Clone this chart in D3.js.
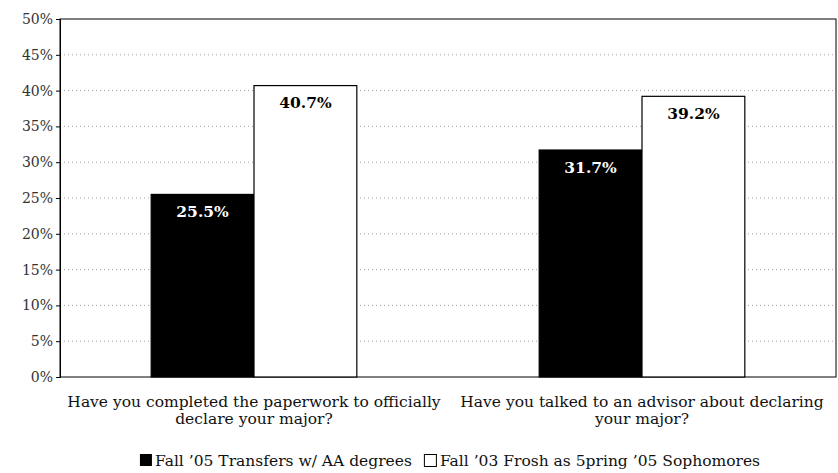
<!DOCTYPE html>
<html><head><meta charset="utf-8">
<script src="https://cdn.jsdelivr.net/npm/d3@7"></script>
<style>body{margin:0;background:#fff}svg{display:block}text{font-family:"DejaVu Serif","Liberation Serif",serif}</style>
</head><body>
<svg id="c" width="838" height="473"></svg>
<script>
const categories = [
  ["Have you completed the paperwork to officially", "declare your major?"],
  ["Have you talked to an advisor about declaring", "your major?"]
];
const seriesNames = ["Fall \u201905 Transfers w/ AA degrees", "Fall \u201903 Frosh as 5pring \u201905 Sophomores"];
const transfers = [25.5, 31.7];
const frosh = [40.7, 39.2];
const yTicks = [0, 5, 10, 15, 20, 25, 30, 35, 40, 45, 50];

const svg = d3.select("#c");
const m = {l: 60, r: 2, t: 19, b: 96};
const W = 838, H = 473;
const iw = W - m.l - m.r, ih = H - m.t - m.b;
const g = svg.append("g").attr("transform", `translate(${m.l},${m.t})`);

const x0 = d3.scaleBand().domain(d3.range(categories.length)).range([0, iw]).paddingInner(0.47).paddingOuter(0.235);
const x1 = d3.scaleBand().domain([0, 1]).range([0, x0.bandwidth()]);
const y = d3.scaleLinear().domain([0, 50]).range([ih, 0]);

// grid
g.selectAll(".grid").data(yTicks.filter(t => t > 0 && t < 50)).enter().append("line")
  .attr("x1", 0).attr("x2", iw).attr("y1", d => y(d)).attr("y2", d => y(d))
  .attr("stroke", "#888").attr("stroke-width", 0.8).attr("stroke-dasharray", "1,3");

// frame
g.append("rect").attr("x", 0).attr("y", 0).attr("width", iw).attr("height", ih)
  .attr("fill", "none").attr("stroke", "#000").attr("stroke-width", 1);

// y axis
const ya = g.append("g").call(d3.axisLeft(y).tickValues(yTicks).tickFormat(d => d + "%").tickSize(4).tickPadding(3));
ya.select(".domain").attr("stroke", "#000");
ya.selectAll("text").attr("font-size", 14).attr("fill", "#333");

const data = categories.map((c, i) => [transfers[i], frosh[i]]);
const fills = ["#000", "#fff"];
const grp = g.selectAll(".grp").data(data).enter().append("g")
  .attr("transform", (d, i) => `translate(${x0(i)},0)`);
grp.selectAll("rect").data(d => d).enter().append("rect")
  .attr("x", (d, j) => x1(j)).attr("width", x1.bandwidth())
  .attr("y", d => y(d)).attr("height", d => ih - y(d))
  .attr("fill", (d, j) => fills[j]).attr("stroke", "#000").attr("stroke-width", 1.2);
grp.selectAll(".vl").data(d => d).enter().append("text")
  .attr("x", (d, j) => x1(j) + x1.bandwidth() / 2).attr("y", d => y(d) + 22.5)
  .attr("text-anchor", "middle").attr("font-size", 15.5).attr("font-weight", "bold")
  .attr("fill", (d, j) => j === 0 ? "#fff" : "#000").text(d => d.toFixed(1) + "%");

// category labels
categories.forEach((lines, i) => {
  const t = g.append("text").attr("text-anchor", "middle").attr("font-size", 15.5).attr("fill", "#111")
    .attr("transform", `translate(${x0(i) + x0.bandwidth() / 2},${ih + 30})`);
  lines.forEach((l, k) => t.append("tspan").attr("x", 0).attr("dy", k ? 17 : 0).text(l));
});

// legend
const lg = svg.append("g");
const t1 = lg.append("text").attr("x", 15).attr("y", 0).attr("font-size", 15.5).attr("fill", "#111").text(seriesNames[0]);
const w1 = t1.node().getComputedTextLength();
const x2 = 15 + w1 + 12;
lg.append("rect").attr("x", 0).attr("y", -12).attr("width", 12).attr("height", 12).attr("fill", "#000");
lg.append("rect").attr("x", x2 + 0.5).attr("y", -11.5).attr("width", 12).attr("height", 12).attr("fill", "#fff").attr("stroke", "#000");
const t2 = lg.append("text").attr("x", x2 + 16).attr("y", 0).attr("font-size", 15.5).attr("fill", "#111").text(seriesNames[1]);
const total = x2 + 16 + t2.node().getComputedTextLength();
lg.attr("transform", `translate(${450 - total / 2},466)`);
</script>
</body></html>
